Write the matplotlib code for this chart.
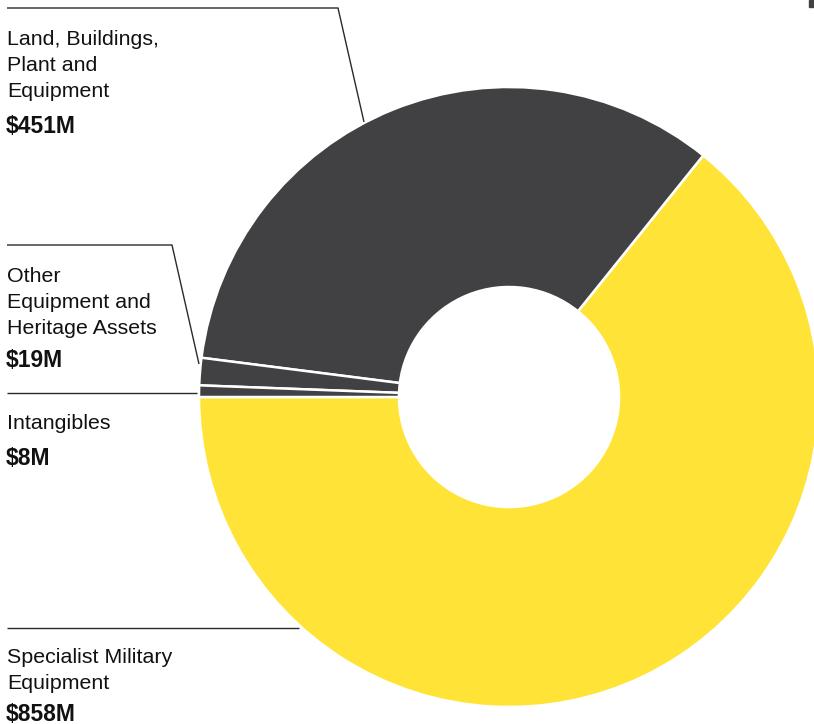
import matplotlib.pyplot as plt
from matplotlib.patches import Rectangle

# Asset categories, values in $M
categories = ['Specialist Military\nEquipment',
              'Land, Buildings,\nPlant and\nEquipment',
              'Other\nEquipment and\nHeritage Assets',
              'Intangibles']
values = [858, 451, 19, 8]
colors = ['#FFE437', '#414042', '#414042', '#414042']

W, H = 814, 724
plt.rcParams['font.family'] = ['Liberation Sans', 'DejaVu Sans']

fig = plt.figure(figsize=(W / 100, H / 100), dpi=100)
ax = fig.add_axes([0, 0, 1, 1])


def py(y):
    # pixel rows are measured from the top
    return H - y


# donut
cx, cy, r_out, r_in = 509, 397, 310, 110
ax.pie(values, colors=colors, startangle=180, counterclock=True,
       center=(cx, py(cy)), radius=r_out,
       wedgeprops=dict(width=r_out - r_in, edgecolor='white', linewidth=1.8))

# label blocks: first baseline, value baseline, leader line points
label_layout = [
    (663, 721, [(7, 628), (299, 628)]),
    (45, 133, [(7, 8), (338, 8), (364, 122)]),
    (282, 367, [(7, 245), (172, 245), (199, 364)]),
    (429, 465, [(7, 393), (197, 393)]),
]

for name, val, (y0, yv, pts) in zip(categories, values, label_layout):
    for i, line in enumerate(name.split('\n')):
        ax.text(7, py(y0 + i * 26), line, fontsize=15.4, color='#111111',
                va='baseline', ha='left')
    ax.text(6, py(yv), f'${val}M', fontsize=16.5, fontweight='bold',
            color='#111111', va='baseline', ha='left')
    xs = [p[0] for p in pts]
    ys = [py(p[1]) for p in pts]
    ax.plot(xs, ys, color='#2a2a2a', linewidth=1.0, solid_capstyle='butt')

# small marker at the top-right edge
ax.add_patch(Rectangle((809, py(7)), 6, 7, color='#414042'))

ax.set_xlim(0, W)
ax.set_ylim(0, H)
ax.set_aspect('auto')
ax.set_axis_off()

fig.savefig('out.png', dpi=100, facecolor='white')
